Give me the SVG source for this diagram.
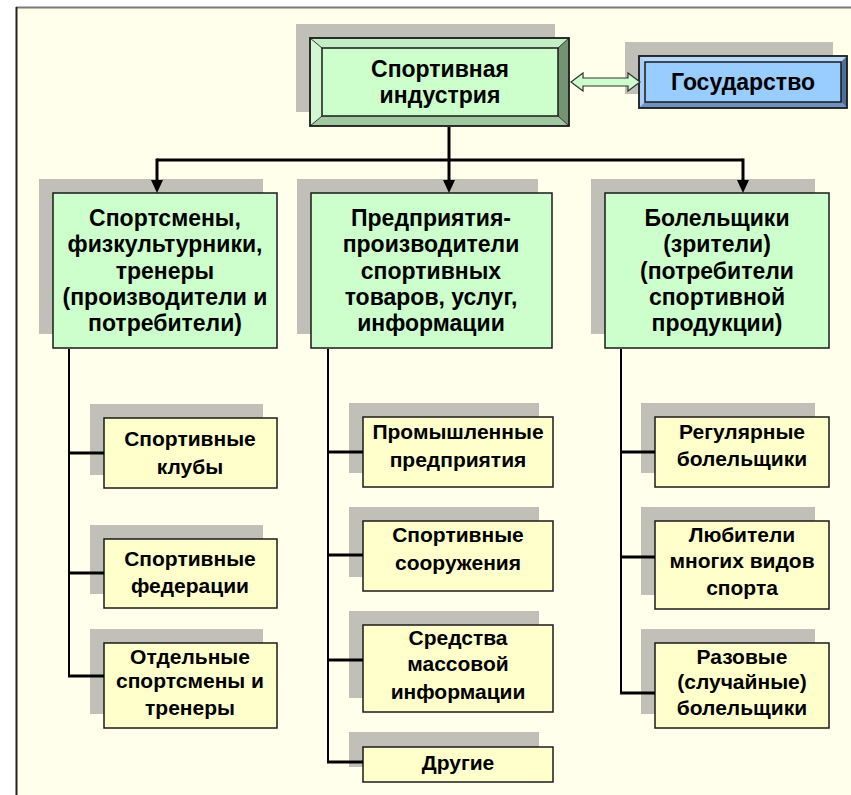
<svg xmlns="http://www.w3.org/2000/svg" width="851" height="795" viewBox="0 0 851 795">
<style>
.t{font-family:"Liberation Sans",Arial,sans-serif;font-weight:bold;fill:#000;text-anchor:middle}
.big{font-size:23px}
.sm{font-size:21px}
.sh{fill:#C0C0B8}
.l2{fill:#CCFFCC;stroke:#1a1a1a;stroke-width:1.5}
.ch{fill:#FFFFCC;stroke:#1a1a1a;stroke-width:1.5}
.ln{stroke:#000;fill:none}
.ah{fill:#000}
</style>
<rect x="0" y="0" width="851" height="795" fill="#FFFFFF"/>
<rect x="16" y="7" width="835" height="788" fill="#FFFFEC"/>
<line x1="16" y1="7.5" x2="851" y2="7.5" stroke="#7a7a7a" stroke-width="2"/>
<line x1="16.5" y1="7" x2="16.5" y2="795" stroke="#222" stroke-width="2"/>

<g id="main">
  <rect class="sh" x="296" y="24" width="259" height="88"/>
  <rect x="310" y="38" width="259" height="88" fill="#CCFFCC"/>
  <polygon points="310,38 569,38 558,48 322,48" fill="#C4EEC4"/>
  <polygon points="310,38 322,48 322,116 310,126" fill="#D2F7D2"/>
  <polygon points="569,38 569,126 558,116 558,48" fill="#739373"/>
  <polygon points="310,126 322,116 558,116 569,126" fill="#A0C8A0"/>
  <line x1="310" y1="38" x2="322" y2="48" stroke="#333" stroke-width="1"/>
  <line x1="569" y1="38" x2="558" y2="48" stroke="#333" stroke-width="1"/>
  <line x1="310" y1="126" x2="322" y2="116" stroke="#333" stroke-width="1"/>
  <line x1="569" y1="126" x2="558" y2="116" stroke="#333" stroke-width="1"/>
  <rect x="322" y="48" width="236" height="68" fill="#CCFFCC" stroke="#1a1a1a" stroke-width="1.5"/>
  <rect x="310" y="38" width="259" height="88" fill="none" stroke="#1a1a1a" stroke-width="1.8"/>
  <text class="t big" x="440" y="77">Спортивная</text>
  <text class="t big" x="440" y="103">индустрия</text>
</g>

<g id="gov">
  <rect class="sh" x="625" y="42" width="208" height="52"/>
  <rect x="639" y="56" width="208" height="52" fill="#99CCFF"/>
  <polygon points="639,56 847,56 841,62 645,62" fill="#B6D8FA"/>
  <polygon points="639,56 645,62 645,102 639,108" fill="#A6CEF6"/>
  <polygon points="847,56 847,108 841,102 841,62" fill="#4E6E9E"/>
  <polygon points="639,108 645,102 841,102 847,108" fill="#6F92C4"/>
  <rect x="645" y="62" width="196" height="40" fill="#99CCFF" stroke="#1a1a1a" stroke-width="1.5"/>
  <rect x="639" y="56" width="208" height="52" fill="none" stroke="#1a1a1a" stroke-width="1.8"/>
  <text class="t big" x="743" y="90">Государство</text>
</g>

<g id="sportsmen">
  <rect class="sh" x="39" y="179" width="224" height="155"/>
  <rect class="l2" x="53" y="193" width="224" height="155"/>
  <text class="t big" x="165" y="226">Спортсмены,</text>
  <text class="t big" x="165" y="252">физкультурники,</text>
  <text class="t big" x="165" y="279">тренеры</text>
  <text class="t big" x="165" y="305">(производители и</text>
  <text class="t big" x="165" y="331">потребители)</text>
</g>

<g id="enterprises">
  <rect class="sh" x="297" y="179" width="241" height="155"/>
  <rect class="l2" x="311" y="193" width="241" height="155"/>
  <text class="t big" x="431" y="226">Предприятия-</text>
  <text class="t big" x="431" y="252">производители</text>
  <text class="t big" x="431" y="279">спортивных</text>
  <text class="t big" x="431" y="305">товаров, услуг,</text>
  <text class="t big" x="431" y="331">информации</text>
</g>

<g id="fans">
  <rect class="sh" x="591" y="179" width="224" height="155"/>
  <rect class="l2" x="605" y="193" width="224" height="155"/>
  <text class="t big" x="717" y="226">Болельщики</text>
  <text class="t big" x="717" y="252">(зрители)</text>
  <text class="t big" x="717" y="279">(потребители</text>
  <text class="t big" x="717" y="305">спортивной</text>
  <text class="t big" x="717" y="331">продукции)</text>
</g>

<g id="clubs">
  <rect class="sh" x="90" y="404" width="173" height="71"/>
  <rect class="ch" x="104" y="418" width="173" height="70"/>
  <text class="t sm" x="190" y="446">Спортивные</text>
  <text class="t sm" x="190" y="474">клубы</text>
</g>
<g id="federations">
  <rect class="sh" x="90" y="525" width="173" height="69"/>
  <rect class="ch" x="104" y="539" width="173" height="69"/>
  <text class="t sm" x="190" y="566">Спортивные</text>
  <text class="t sm" x="190" y="593">федерации</text>
</g>
<g id="individuals">
  <rect class="sh" x="90" y="629" width="173" height="85"/>
  <rect class="ch" x="104" y="643" width="173" height="85"/>
  <text class="t sm" x="190" y="664">Отдельные</text>
  <text class="t sm" x="190" y="688">спортсмены и</text>
  <text class="t sm" x="190" y="715">тренеры</text>
</g>

<g id="industrial">
  <rect class="sh" x="349" y="403" width="190" height="70"/>
  <rect class="ch" x="363" y="417" width="190" height="70"/>
  <text class="t sm" x="458" y="439">Промышленные</text>
  <text class="t sm" x="458" y="467">предприятия</text>
</g>
<g id="facilities">
  <rect class="sh" x="349" y="507" width="190" height="70"/>
  <rect class="ch" x="363" y="521" width="190" height="70"/>
  <text class="t sm" x="458" y="542">Спортивные</text>
  <text class="t sm" x="458" y="570">сооружения</text>
</g>
<g id="media">
  <rect class="sh" x="349" y="611" width="190" height="87"/>
  <rect class="ch" x="363" y="625" width="190" height="87"/>
  <text class="t sm" x="458" y="645">Средства</text>
  <text class="t sm" x="458" y="671">массовой</text>
  <text class="t sm" x="458" y="699">информации</text>
</g>
<g id="others">
  <rect class="sh" x="349" y="732" width="190" height="35"/>
  <rect class="ch" x="363" y="747" width="190" height="35"/>
  <text class="t sm" x="458" y="770">Другие</text>
</g>

<g id="regular">
  <rect class="sh" x="641" y="403" width="174" height="70"/>
  <rect class="ch" x="655" y="417" width="174" height="70"/>
  <text class="t sm" x="742" y="439">Регулярные</text>
  <text class="t sm" x="742" y="466">болельщики</text>
</g>
<g id="lovers">
  <rect class="sh" x="641" y="507" width="174" height="88"/>
  <rect class="ch" x="655" y="521" width="174" height="88"/>
  <text class="t sm" x="742" y="542">Любители</text>
  <text class="t sm" x="742" y="568">многих видов</text>
  <text class="t sm" x="742" y="595">спорта</text>
</g>
<g id="occasional">
  <rect class="sh" x="641" y="629" width="174" height="85"/>
  <rect class="ch" x="655" y="643" width="174" height="85"/>
  <text class="t sm" x="742" y="664">Разовые</text>
  <text class="t sm" x="742" y="689">(случайные)</text>
  <text class="t sm" x="742" y="715">болельщики</text>
</g>

<g id="connectors">
  <line class="ln" x1="449" y1="127" x2="449" y2="160" stroke-width="3"/>
  <line class="ln" x1="157" y1="160" x2="743" y2="160" stroke-width="3"/>
  <line class="ln" x1="157" y1="158.5" x2="157" y2="182" stroke-width="3"/>
  <line class="ln" x1="449" y1="160" x2="449" y2="182" stroke-width="3"/>
  <line class="ln" x1="743" y1="158.5" x2="743" y2="182" stroke-width="3"/>
  <polygon class="ah" points="151,180 163,180 157,193"/>
  <polygon class="ah" points="443,180 455,180 449,193"/>
  <polygon class="ah" points="737,180 749,180 743,193"/>
  <polygon points="571,82 583,73 583,78 628,78 628,73 640,82 628,91 628,86 583,86 583,91" fill="#CCFFCC" stroke="#333" stroke-width="1.2"/>
  <line class="ln" x1="69" y1="349" x2="69" y2="677" stroke-width="2"/>
  <line class="ln" x1="68" y1="453" x2="104" y2="453" stroke-width="3"/>
  <line class="ln" x1="68" y1="573" x2="104" y2="573" stroke-width="3"/>
  <line class="ln" x1="68" y1="676" x2="104" y2="676" stroke-width="3"/>
  <line class="ln" x1="328" y1="349" x2="328" y2="763" stroke-width="2"/>
  <line class="ln" x1="327" y1="452" x2="363" y2="452" stroke-width="3"/>
  <line class="ln" x1="327" y1="555" x2="363" y2="555" stroke-width="3"/>
  <line class="ln" x1="327" y1="660" x2="363" y2="660" stroke-width="3"/>
  <line class="ln" x1="327" y1="762" x2="363" y2="762" stroke-width="3"/>
  <line class="ln" x1="621" y1="349" x2="621" y2="694" stroke-width="2"/>
  <line class="ln" x1="620" y1="452" x2="655" y2="452" stroke-width="3"/>
  <line class="ln" x1="620" y1="557" x2="655" y2="557" stroke-width="3"/>
  <line class="ln" x1="620" y1="693" x2="655" y2="693" stroke-width="3"/>
</g>
</svg>
